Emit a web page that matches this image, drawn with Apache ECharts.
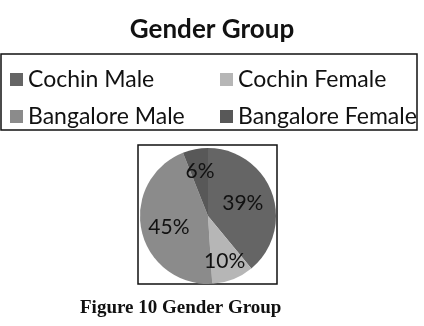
<!DOCTYPE html>
<html>
<head>
<meta charset="utf-8">
<script src="https://cdn.jsdelivr.net/npm/echarts@6/dist/echarts.min.js"></script>
<style>
  html, body { margin: 0; padding: 0; background: #fff; }
  #chart { width: 424px; height: 326px; }
</style>
</head>
<body>
<div id="chart"></div>
<script>
// slices in clockwise order from 12 o'clock
const groups = ['Cochin Male', 'Cochin Female', 'Bangalore Male', 'Bangalore Female'];
const shares = [39, 10, 45, 6];
const colors = ['#656565', '#b6b6b6', '#8b8b8b', '#585858'];

const chart = echarts.init(document.getElementById('chart'));

const legendText = { fontFamily: 'Lato', fontSize: 23, color: '#111', lineHeight: 23 };

const option = {
  animation: false,
  title: {
    text: 'Gender Group',
    left: 'center',
    top: 12,
    textStyle: { fontFamily: 'Lato', fontWeight: 'bold', fontSize: 26, color: '#111' }
  },
  legend: [
    {
      orient: 'vertical', left: 5, top: 63, itemGap: 14,
      icon: 'rect', itemWidth: 13, itemHeight: 13,
      data: [groups[0], groups[2]],
      textStyle: legendText
    },
    {
      orient: 'vertical', left: 215, top: 63, itemGap: 14,
      icon: 'rect', itemWidth: 13, itemHeight: 13,
      data: [groups[1], groups[3]],
      textStyle: legendText
    }
  ],
  graphic: [
    { type: 'rect', shape: { x: 1, y: 54, width: 416, height: 76 },
      style: { fill: 'none', stroke: '#111', lineWidth: 1.5 } },
    { type: 'rect', shape: { x: 138, y: 145, width: 139, height: 139 },
      style: { fill: 'none', stroke: '#111', lineWidth: 1.5 } },
    { type: 'text', left: 80, top: 299,
      style: { text: 'Figure 10 Gender Group', font: 'bold 19px "Liberation Serif"', fill: '#111' } }
  ],
  series: [{
    type: 'pie',
    center: [208, 216],
    radius: 68,
    startAngle: 90,
    clockwise: true,
    label: {
      position: 'inside',
      formatter: '{c}%',
      fontFamily: 'Lato',
      fontSize: 21,
      color: '#111'
    },
    labelLine: { show: false },
    labelLayout: function (p) {
      // small slices carry their labels nearer the rim
      if (p.dataIndex === 1) return { dx: 3, dy: 11 };
      if (p.dataIndex === 3) return { dx: -1, dy: -8 };
      if (p.dataIndex === 2) return { dx: -3, dy: 3 };
      return {};
    },
    emphasis: { disabled: true },
    data: groups.map((g, i) => ({ name: g, value: shares[i], itemStyle: { color: colors[i] } }))
  }]
};

chart.setOption(option);
</script>
</body>
</html>
